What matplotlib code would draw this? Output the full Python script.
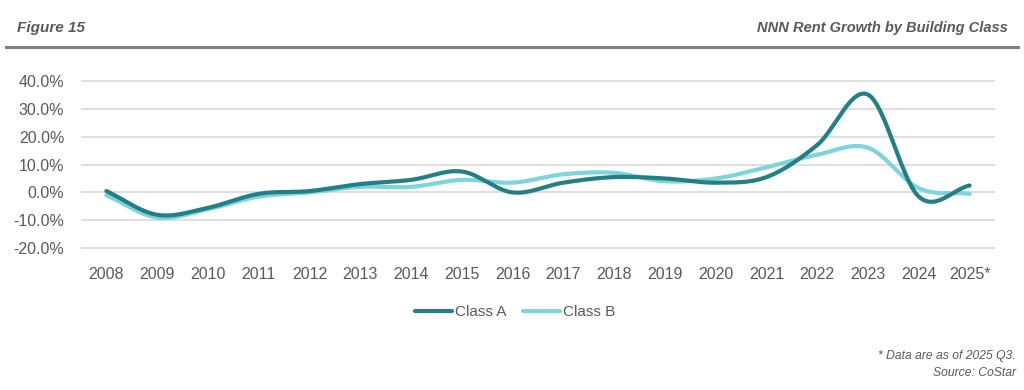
import numpy as np
import matplotlib
matplotlib.use("Agg")
import matplotlib.pyplot as plt
from matplotlib.lines import Line2D
from matplotlib import font_manager

plt.rcParams['font.family'] = ['Liberation Sans', 'DejaVu Sans']

years = ["2008", "2009", "2010", "2011", "2012", "2013", "2014", "2015", "2016",
         "2017", "2018", "2019", "2020", "2021", "2022", "2023", "2024", "2025*"]
class_a = [0.5, -8.0, -5.5, -0.5, 0.5, 3.0, 4.5, 7.5, 0.0,
           3.5, 5.5, 5.0, 3.5, 5.5, 17.0, 35.0, -1.5, 2.5]
class_b = [-1.0, -9.0, -6.0, -1.5, 0.0, 2.0, 2.0, 4.5, 3.5,
           6.5, 7.0, 4.0, 5.0, 9.0, 13.5, 16.0, 1.5, -0.5]
yticks = [-20, -10, 0, 10, 20, 30, 40]

col_a = "#237f86"
col_b = "#7ed4dc"
txt = "#595959"

names = {f.name for f in font_manager.fontManager.ttflist}
narrow = 'Liberation Sans Narrow' in names
title_family = ['Liberation Sans Narrow', 'Liberation Sans'] if narrow else ['Liberation Sans']
title_size = 12.5 if narrow else 10.5


def smooth(x, y, n=30):
    # Catmull-Rom style smoothing (like Excel smoothed lines)
    x = np.asarray(x, float)
    y = np.asarray(y, float)
    px = np.concatenate([[2 * x[0] - x[1]], x, [2 * x[-1] - x[-2]]])
    py = np.concatenate([[2 * y[0] - y[1]], y, [2 * y[-1] - y[-2]]])
    xs, ys = [], []
    for i in range(1, len(px) - 2):
        p0, p1, p2, p3 = (np.array([px[j], py[j]]) for j in range(i - 1, i + 3))
        c1 = p1 + (p2 - p0) / 6.0
        c2 = p2 - (p3 - p1) / 6.0
        t = np.linspace(0, 1, n)[:, None]
        pts = ((1 - t) ** 3) * p1 + 3 * ((1 - t) ** 2) * t * c1 + 3 * (1 - t) * t ** 2 * c2 + t ** 3 * p2
        xs.extend(pts[:, 0])
        ys.extend(pts[:, 1])
    return np.array(xs), np.array(ys)


fig = plt.figure(figsize=(10.24, 3.9), dpi=100)
ax = fig.add_axes([81 / 1024, 1 - 250 / 390, (995 - 81) / 1024, (250 - 79) / 390])

xpos = np.arange(len(years))
for vals, c in [(class_b, col_b), (class_a, col_a)]:
    sx, sy = smooth(xpos, vals)
    ax.plot(sx, sy, color=c, lw=3.0, solid_capstyle='round', zorder=3)

ax.set_xlim(-0.5, len(years) - 0.5)
ax.set_ylim(-20.6, 40.6)
ax.set_yticks(yticks)
ax.set_yticklabels([f"{v:.1f}%" for v in yticks])
ax.set_xticks(xpos)
ax.set_xticklabels(years)
ax.tick_params(axis='both', length=0, labelsize=11.5, colors=txt)
ax.tick_params(axis='x', pad=12)
ax.tick_params(axis='y', pad=12)
ax.grid(axis='y', color='#d9d9d9', lw=1.2)
ax.set_axisbelow(True)
for s in ax.spines.values():
    s.set_visible(False)

handles = [Line2D([], [], color=col_a, lw=3.0, solid_capstyle='round'),
           Line2D([], [], color=col_b, lw=3.0, solid_capstyle='round')]
fig.legend(handles, ["Class A", "Class B"], loc='center', bbox_to_anchor=(515 / 1024, 1 - 312 / 390),
           ncol=2, frameon=False, fontsize=11, labelcolor=txt, handlelength=2.4,
           handletextpad=0.2, columnspacing=1.1)

fig.text(17 / 1024, 1 - 28 / 390, "Figure 15", fontsize=title_size + 0.5, fontweight='bold', style='italic',
         color=txt, ha='left', va='center', family=title_family)
fig.text(1008 / 1024, 1 - 28 / 390, "NNN Rent Growth by Building Class", fontsize=title_size,
         fontweight='bold', style='italic', color=txt, ha='right', va='center', family=title_family)
fig.add_artist(Line2D([6 / 1024, 1018 / 1024], [1 - 47 / 390, 1 - 47 / 390], color='#7f7f7f', lw=2.2))

fig.text(1016 / 1024, 1 - 356 / 390, "* Data are as of 2025 Q3.", fontsize=8.7, style='italic',
         color=txt, ha='right', va='center')
fig.text(1016 / 1024, 1 - 373 / 390, "Source: CoStar", fontsize=8.7, style='italic',
         color=txt, ha='right', va='center')

fig.savefig("out.png", dpi=100, facecolor='white')
